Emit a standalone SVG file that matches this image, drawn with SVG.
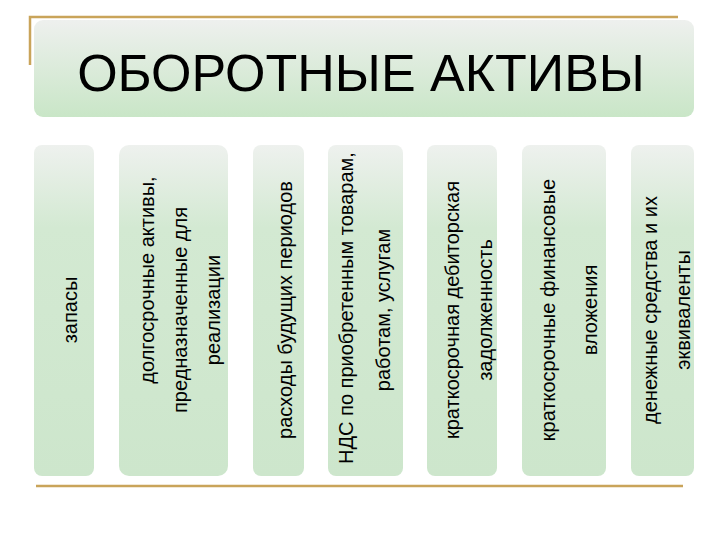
<svg xmlns="http://www.w3.org/2000/svg" width="720" height="540" viewBox="0 0 720 540">
<defs>
<linearGradient id="tg" x1="0" y1="0" x2="0" y2="1"><stop offset="0" stop-color="#eef0ee"/><stop offset="1" stop-color="#c9e6c7"/></linearGradient>
<linearGradient id="cg" x1="0" y1="0" x2="0" y2="1"><stop offset="0" stop-color="#eef1ee"/><stop offset="0.25" stop-color="#d3e9d2"/><stop offset="1" stop-color="#cde6cc"/></linearGradient>
<style>
.c{fill:url(#cg);}
.t{font-family:"Liberation Sans",Arial,sans-serif;font-size:20px;fill:#000;text-anchor:middle;}
.l{stroke:#c9a45a;stroke-width:2.5;fill:none;}
</style>
</defs>
<rect width="720" height="540" fill="#fff"/>
<g id="lines">
<path class="l" d="M30 65 V17 H678"/>
<path class="l" d="M36 486 H683"/>
</g>
<g id="title">
<rect x="34" y="20" width="660" height="97" rx="9" fill="url(#tg)"/>
<text x="361" y="91" font-family="Liberation Sans,Arial,sans-serif" font-size="52" text-anchor="middle">ОБОРОТНЫЕ АКТИВЫ</text>
</g>
<g id="n1"><rect class="c" x="34" y="145" width="60" height="331" rx="8"/>
<text class="t" transform="translate(77,310) rotate(-90)">запасы</text></g>
<g id="n2"><rect class="c" x="119" y="145" width="109" height="331" rx="10"/>
<text class="t" transform="translate(154,280) rotate(-90)">долгосрочные активы,</text>
<text class="t" transform="translate(187,310) rotate(-90)">предназначенные для</text>
<text class="t" transform="translate(220,310) rotate(-90)">реализации</text></g>
<g id="n3"><rect class="c" x="253" y="145" width="51" height="331" rx="8"/>
<text class="t" transform="translate(292,310) rotate(-90)">расходы будущих периодов</text></g>
<g id="n4"><rect class="c" x="328" y="145" width="75" height="331" rx="8"/>
<text class="t" transform="translate(353,308) rotate(-90)">НДС по приобретенным товарам,</text>
<text class="t" transform="translate(390,310) rotate(-90)">работам, услугам</text></g>
<g id="n5"><rect class="c" x="427" y="145" width="70" height="331" rx="8"/>
<text class="t" transform="translate(459,310) rotate(-90)">краткосрочная дебиторская</text>
<text class="t" transform="translate(492,310) rotate(-90)">задолженность</text></g>
<g id="n6"><rect class="c" x="522" y="145" width="84" height="331" rx="8"/>
<text class="t" transform="translate(555,310) rotate(-90)">краткосрочные финансовые</text>
<text class="t" transform="translate(597,310) rotate(-90)">вложения</text></g>
<g id="n7"><rect class="c" x="631" y="145" width="63" height="331" rx="8"/>
<text class="t" transform="translate(657,310) rotate(-90)">денежные средства и их</text>
<text class="t" transform="translate(690,310) rotate(-90)">эквиваленты</text></g>
</svg>
